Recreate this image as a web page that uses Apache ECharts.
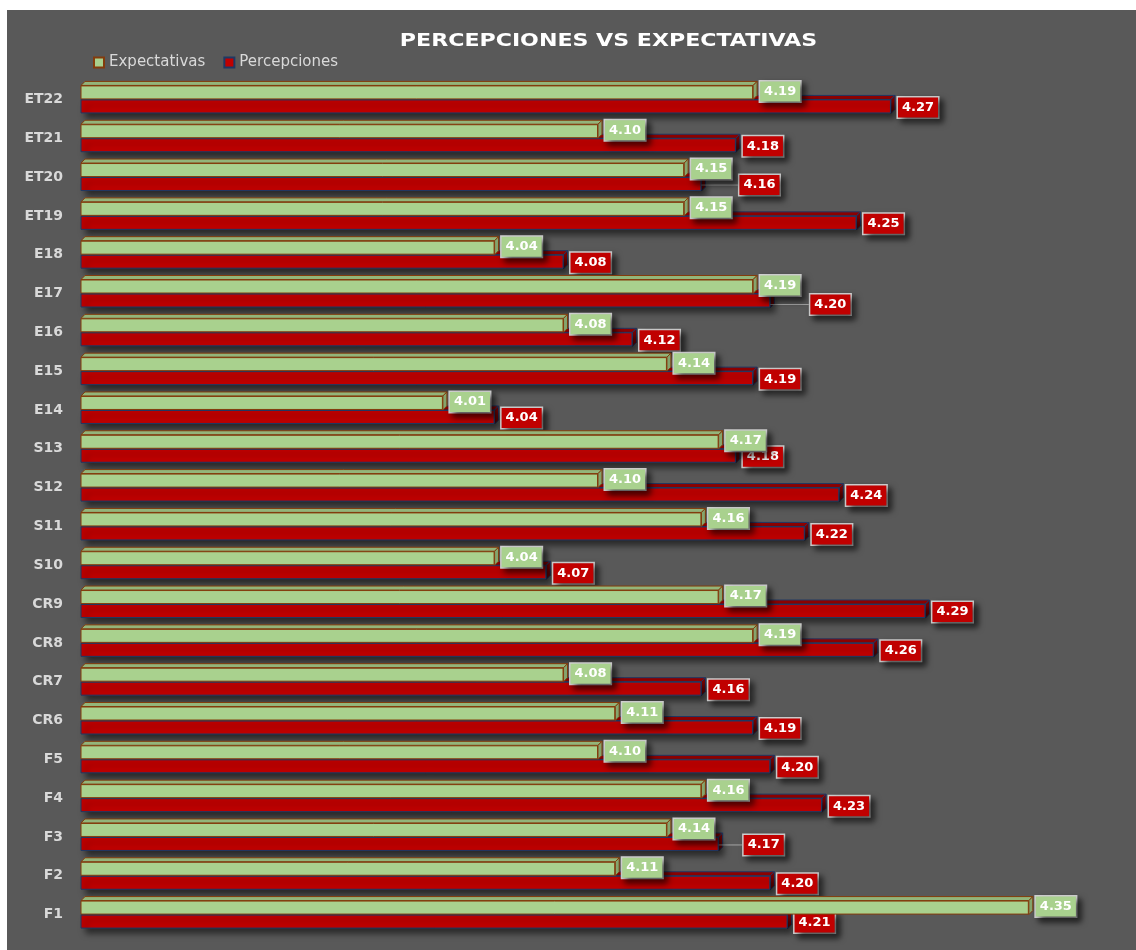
<!DOCTYPE html>
<html>
<head>
<meta charset="utf-8">
<script src="https://cdn.jsdelivr.net/npm/echarts@6/dist/echarts.min.js"></script>
<style>
html,body{margin:0;padding:0;background:#ffffff;}
#wrap{position:absolute;left:0;top:0;width:1136px;height:950px;background:#ffffff;}
#chart{position:absolute;left:7px;top:10px;width:1129px;height:940px;background:#595959;}
</style>
</head>
<body>
<div id="wrap"><div id="chart"></div></div>
<script>
var categories = ['F1','F2','F3','F4','F5','CR6','CR7','CR8','CR9','S10','S11','S12','S13','E14','E15','E16','E17','E18','ET19','ET20','ET21','ET22'];
var expectativas = [4.35,4.11,4.14,4.16,4.10,4.11,4.08,4.19,4.17,4.04,4.16,4.10,4.17,4.01,4.14,4.08,4.19,4.04,4.15,4.15,4.10,4.19];
var percepciones = [4.21,4.20,4.17,4.23,4.20,4.19,4.16,4.26,4.29,4.07,4.22,4.24,4.18,4.04,4.19,4.12,4.20,4.08,4.25,4.16,4.18,4.27];
var titleText = 'PERCEPCIONES VS EXPECTATIVAS';
var seriesNames = ['Expectativas','Percepciones'];

// labels that were dragged aside in the original (label styling, not data)
var movedRedLabels = {'ET20': [31, 0], 'E17': [33, 3], 'F3': [18, 0]};

var BW = 14, D = 4;

function faces(sign, topColor, sideColor, stroke) {
  return function (params, api) {
    var v = api.value(0), c = api.value(1);
    var end = api.coord([v, c]);
    var start = api.coord([3.8, c]);
    var yTop = sign > 0 ? end[1] - BW : end[1];
    var x0 = start[0], x1 = end[0];
    return {
      type: 'group',
      children: [
        {type:'polygon', shape:{points:[[x0,yTop],[x0+D,yTop-D],[x1+D,yTop-D],[x1,yTop]]},
         style:{fill:topColor, stroke:stroke, lineWidth:1}},
        {type:'polygon', shape:{points:[[x1,yTop],[x1+D,yTop-D],[x1+D,yTop+BW-D],[x1,yTop+BW]]},
         style:{fill:sideColor, stroke:stroke, lineWidth:1}}
      ]
    };
  };
}

var redData = percepciones.map(function (v, i) {
  return movedRedLabels[categories[i]] ? {value: v, labelLine: {show: true}} : v;
});

var chart = echarts.init(document.getElementById('chart'), null, {renderer:'canvas'});
var labelCommon = {
  show: true, position: 'right', distance: 3,
  color: '#ffffff', fontFamily: 'DejaVu Sans', fontWeight: 'bold', fontSize: 13,
  padding: [4, 4, 3, 4], borderColor: '#d0d0d0', borderWidth: 1.5,
  shadowColor: 'rgba(0,0,0,0.6)', shadowBlur: 6, shadowOffsetX: 4, shadowOffsetY: 4,
  formatter: function (p) { return p.value.toFixed(2); }
};
chart.setOption({
  animation: false,
  graphic: [{
    type: 'text', x: 601.5, y: 32, scaleX: 1.3, scaleY: 1,
    style: {text: titleText, fill: '#ffffff', font: 'bold 17px "DejaVu Sans"', textAlign: 'center', textVerticalAlign: 'middle'}
  }],
  legend: {
    data: seriesNames, left: 86, top: 45, padding: 0, itemWidth: 10, itemHeight: 10, itemGap: 18,
    icon: 'rect',
    textStyle: {color: '#d9d9d9', fontFamily: 'DejaVu Sans', fontSize: 15}
  },
  grid: {left: 74, right: 21, top: 70, bottom: 16, containLabel: false},
  xAxis: {type: 'value', min: 3.8, max: 4.4, show: false},
  yAxis: {
    type: 'category', data: categories,
    axisLine: {show: false}, axisTick: {show: false},
    axisLabel: {color: '#d9d9d9', fontFamily: 'DejaVu Sans', fontWeight: 'bold', fontSize: 14, margin: 18}
  },
  series: [
    {name: seriesNames[0], type: 'bar', data: expectativas, barWidth: BW, barGap: '0%', z: 4,
     itemStyle: {color: '#a9d18e', borderColor: '#843c0c', borderWidth: 1},
     label: Object.assign({}, labelCommon, {backgroundColor: '#a9d18e', offset: [D, -1]})},
    {name: seriesNames[1], type: 'bar', data: redData, barWidth: BW, barGap: '0%', z: 2,
     itemStyle: {color: '#c00000', borderColor: '#1f3864', borderWidth: 1,
       shadowColor: 'rgba(0,0,0,0.55)', shadowBlur: 6, shadowOffsetX: 5, shadowOffsetY: 5},
     label: Object.assign({}, labelCommon, {backgroundColor: '#c00000'}),
     labelLine: {show: false, lineStyle: {color: '#a6a6a6', width: 1}},
     labelLayout: function (p) {
       var m = movedRedLabels[categories[p.dataIndex]] || [0, 0];
       return {dx: D + m[0], dy: 1 + m[1]};
     }},
    {type: 'custom', silent: true, z: 1, renderItem: faces(-1, '#8e0000', '#7a0000', '#1f3864'),
     data: percepciones.map(function (v, i) { return [v, i]; }), encode: {x: 0, y: 1}},
    {type: 'custom', silent: true, z: 3, renderItem: faces(1, '#93b57a', '#86a66e', '#843c0c'),
     data: expectativas.map(function (v, i) { return [v, i]; }), encode: {x: 0, y: 1}}
  ]
});
</script>
</body>
</html>
